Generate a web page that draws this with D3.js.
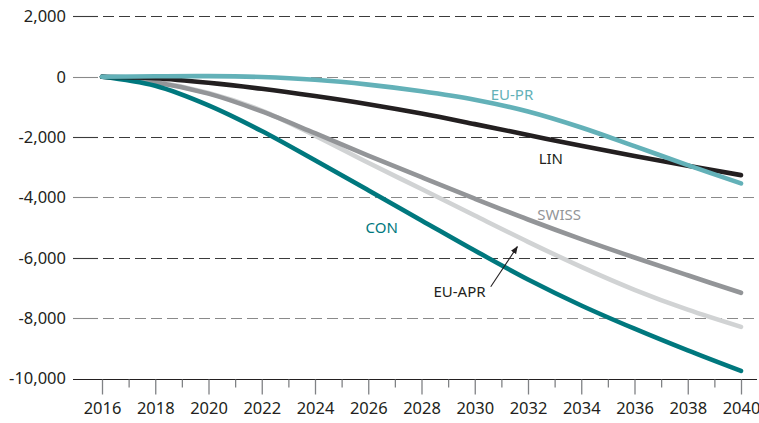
<!DOCTYPE html>
<html>
<head>
<meta charset="utf-8">
<script src="https://cdn.jsdelivr.net/npm/d3@7/dist/d3.min.js"></script>
<style>
	body{margin:0;background:#fff;}
	svg text{font-family:"Noto Sans",sans-serif;}
</style>
</head>
<body>
<div id="chart"></div>
<script>
// years sampled every two years
var years = [2016,2018,2020,2022,2024,2026,2028,2030,2032,2034,2036,2038,2040];
var euPr  = [0,15,20,-10,-100,-260,-480,-760,-1150,-1680,-2300,-2930,-3535];
var lin   = [0,-50,-200,-400,-640,-910,-1220,-1570,-1930,-2290,-2630,-2950,-3260];
var swiss = [0,-180,-560,-1150,-1870,-2610,-3330,-4040,-4730,-5380,-5990,-6580,-7160];
var euApr = [0,-170,-540,-1120,-1950,-2850,-3720,-4600,-5470,-6300,-7060,-7720,-8290];
var con   = [0,-300,-950,-1800,-2770,-3760,-4760,-5760,-6720,-7580,-8350,-9070,-9750];
var yTicks = [2000,0,-2000,-4000,-6000,-8000,-10000];
var xTicks = [2016,2018,2020,2022,2024,2026,2028,2030,2032,2034,2036,2038,2040];

var W = 759, H = 423;
var svg = d3.select("#chart").append("svg").attr("width",W).attr("height",H);

var x = d3.scaleLinear().domain([2016,2040]).range([102,741]);
var y = d3.scaleLinear().domain([-10000,2000]).range([378.5,16.4]);
var fmt = function(v){ return d3.format(",")(v).replace("\u2212","-"); };

// grid lines (alternating tone like the original)
var grid = svg.append("g");
yTicks.filter(function(v){ return v > -10000; }).forEach(function(v,i){
	var yy = Math.round(y(v)) + 0.5;
	var col = i % 2 == 0 ? "#3a3a3a" : "#8a8a8a";
	grid.append("line").attr("x1",73).attr("x2",98).attr("y1",yy).attr("y2",yy)
		.attr("stroke",col).attr("stroke-width",1.1);
	grid.append("line").attr("x1",103).attr("x2",759).attr("y1",yy).attr("y2",yy)
		.attr("stroke",col).attr("stroke-width",1.1).attr("stroke-dasharray","11,5");
});
yTicks.forEach(function(v){
	svg.append("text").attr("x",66).attr("y",y(v)).attr("dy","0.36em")
		.attr("text-anchor","end").style("font-size","16.5px").style("fill","#231f20")
		.text(fmt(v));
});

// x axis
var axisY = Math.round(y(-10000)) + 0.5;
svg.append("line").attr("x1",73).attr("x2",757).attr("y1",axisY).attr("y2",axisY)
	.attr("stroke","#231f20").attr("stroke-width",1.2);
var minor = d3.range(2017,2040,2);
var gx = svg.append("g").attr("transform","translate(0,"+axisY+")");
gx.call(d3.axisBottom(x).tickValues(minor).tickSize(8).tickFormat(""));
var gx2 = svg.append("g").attr("transform","translate(0,"+axisY+")");
gx2.call(d3.axisBottom(x).tickValues(xTicks).tickSize(15).tickPadding(8).tickFormat(d3.format("d")));
[gx,gx2].forEach(function(g){
	g.select(".domain").remove();
	g.selectAll(".tick line").attr("stroke","#808285").attr("stroke-width",1.3);
	g.selectAll(".tick text").style("font-size","16.5px").style("fill","#231f20")
		.style("font-family","'Noto Sans',sans-serif");
});

// lines
var series = [
	{name:"LIN", values:lin, color:"#231f20"},
	{name:"SWISS", values:swiss, color:"#939598"},
	{name:"EU-APR", values:euApr, color:"#d1d3d4"},
	{name:"CON", values:con, color:"#00787e"},
	{name:"EU-PR", values:euPr, color:"#63b1b8"}
];
// draw order: light gray under gray
var order = ["EU-APR","SWISS","CON","LIN","EU-PR"];
var line = d3.line().x(function(d){ return x(d[0]); }).y(function(d){ return y(d[1]); })
	.curve(d3.curveCatmullRom.alpha(0.5));
order.forEach(function(n){
	var s = series.filter(function(a){ return a.name == n; })[0];
	svg.append("path").datum(years.map(function(yr,i){ return [yr,s.values[i]]; }))
		.attr("d",line).attr("fill","none").attr("stroke",s.color)
		.attr("stroke-width",4.6).attr("stroke-linecap","round").attr("stroke-linejoin","round");
});

// labels
var labels = [
	{t:"EU-PR", yr:2030.6, v:-590, c:"#63b1b8"},
	{t:"LIN", yr:2032.4, v:-2700, c:"#231f20"},
	{t:"SWISS", yr:2032.35, v:-4580, c:"#939598"},
	{t:"CON", yr:2025.9, v:-5010, c:"#00787e"},
	{t:"EU-APR", yr:2028.45, v:-7120, c:"#231f20"}
];
labels.forEach(function(l){
	svg.append("text").attr("x",x(l.yr)).attr("y",y(l.v)).attr("dy","0.36em")
		.style("font-size","15px").style("fill",l.c).text(l.t);
});

// arrow to EU-APR
svg.append("defs").append("marker").attr("id","ah").attr("viewBox","0 0 10 10")
	.attr("refX",9).attr("refY",5).attr("markerWidth",7).attr("markerHeight",7)
	.attr("orient","auto").append("path").attr("d","M0,1 L10,5 L0,9 Z").attr("fill","#231f20");
svg.append("line").attr("x1",x(2030.6)).attr("y1",y(-6960)).attr("x2",x(2031.6)).attr("y2",y(-5630))
	.attr("stroke","#231f20").attr("stroke-width",1.1).attr("marker-end","url(#ah)");
</script>
</body>
</html>
